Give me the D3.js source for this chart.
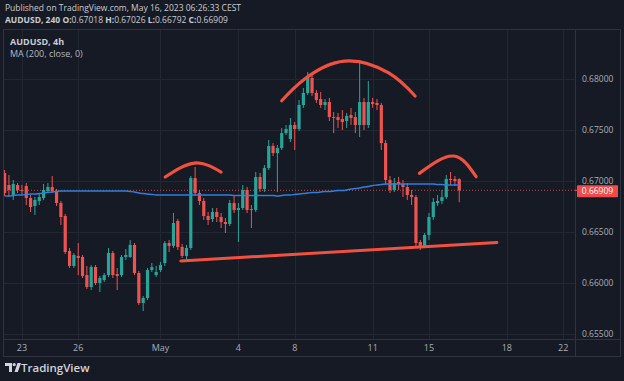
<!DOCTYPE html>
<html><head><meta charset="utf-8">
<script src="https://cdn.jsdelivr.net/npm/d3@7"></script>
<style>
html,body{margin:0;padding:0;background:#161a25;}
svg{display:block;}
</style></head>
<body>
<script>
// ---- Data (AUDUSD, 4h) ----
const opens  = [.67078,.66961,.66863,.66961,.66912,.66951,.66833,.66755,.66804,.66833,.66902,.66941,.66902,.66784,.66657,.66314,.66167,.66265,.66255,.66078,.65961,.66157,.66000,.66029,.66078,.66294,.66088,.66078,.66255,.66255,.66373,.66098,.65804,.65853,.66127,.66078,.66127,.66196,.66392,.66363,.66608,.66353,.66265,.66343,.67029,.66882,.66804,.66657,.66627,.66696,.66647,.66598,.66578,.66784,.66716,.66735,.66912,.66725,.66716,.67039,.66922,.67127,.67343,.67274,.67323,.67470,.67412,.67549,.67510,.67745,.67863,.68010,.67863,.67804,.67745,.67774,.67627,.67627,.67608,.67588,.67647,.67627,.67549,.67774,.67549,.67774,.67765,.67745,.67372,.67010,.66912,.66990,.66971,.66941,.66863,.66843,.66402,.66363,.66471,.66647,.66784,.66804,.66843,.67020,.67020,.67018];
const highs  = [.67108,.67059,.67010,.66980,.66961,.66980,.66863,.66843,.66882,.66971,.66980,.67049,.66922,.66804,.66676,.66343,.66294,.66392,.66275,.66167,.66176,.66176,.66069,.66098,.66343,.66314,.66147,.66275,.66333,.66422,.66392,.66118,.65873,.66147,.66196,.66167,.66206,.66412,.66422,.66686,.66627,.66382,.66373,.67049,.67137,.66912,.66833,.66696,.66735,.66735,.66686,.66637,.66814,.66863,.66784,.66961,.66941,.66765,.67088,.67078,.67157,.67402,.67372,.67353,.67520,.67549,.67618,.67578,.67794,.67912,.68069,.68039,.67892,.67873,.67804,.67814,.67676,.67667,.67696,.67667,.67716,.67676,.68186,.67814,.67980,.67814,.67804,.67765,.67402,.67049,.67029,.67039,.67010,.66980,.66912,.66863,.66422,.66490,.66686,.66833,.66863,.66912,.67059,.67088,.67049,.67026];
const lows   = [.66853,.66843,.66814,.66882,.66863,.66765,.66696,.66667,.66765,.66814,.66882,.66882,.66755,.66569,.66284,.66147,.66147,.66078,.66049,.65941,.65931,.65980,.65912,.66010,.66059,.66049,.65931,.66059,.66225,.66245,.66078,.65784,.65725,.65833,.66108,.66059,.66108,.66167,.66304,.66343,.66324,.66245,.66206,.66324,.66853,.66765,.66618,.66569,.66598,.66598,.66539,.66490,.66559,.66686,.66402,.66716,.66686,.66539,.66696,.66892,.66892,.67108,.67245,.66892,.67304,.67451,.67382,.67304,.67490,.67716,.67843,.67833,.67765,.67716,.67696,.67588,.67470,.67520,.67500,.67520,.67549,.67470,.67431,.67500,.67520,.67716,.67696,.67304,.66961,.66882,.66892,.66912,.66843,.66814,.66765,.66363,.66324,.66343,.66422,.66618,.66755,.66775,.66823,.66961,.66951,.66792];
const closes = [.66882,.66912,.66971,.66912,.66902,.66833,.66745,.66814,.66843,.66912,.66941,.66902,.66784,.66647,.66304,.66167,.66275,.66245,.66069,.65961,.66157,.66000,.66049,.66078,.66294,.66078,.66069,.66255,.66275,.66373,.66098,.65804,.65853,.66127,.66157,.66108,.66176,.66392,.66363,.66588,.66353,.66265,.66343,.67029,.66882,.66804,.66657,.66618,.66696,.66647,.66598,.66578,.66784,.66716,.66735,.66912,.66716,.66716,.67039,.66922,.67127,.67343,.67274,.67323,.67470,.67510,.67549,.67510,.67745,.67863,.68010,.67863,.67794,.67745,.67774,.67627,.67618,.67598,.67578,.67637,.67618,.67549,.67774,.67549,.67774,.67755,.67745,.67372,.67010,.66912,.66980,.66971,.66941,.66863,.66843,.66392,.66363,.66471,.66647,.66794,.66804,.66843,.67020,.67010,.67000,.66909];
const ma200  = [.66853,.66853,.66858,.66863,.66863,.66868,.66873,.66873,.66877,.66882,.66887,.66892,.66897,.66902,
  .66902,.66902,.66902,.66902,.66902,.66902,.66902,.66902,.66902,.66902,.66902,.66902,.66902,.66902,.66902,
  .66897,.66892,.66882,.66877,.66873,.66868,
  .66863,.66863,.66863,.66863,.66863,.66863,.66863,.66863,.66863,
  .66863,.66863,.66863,.66863,.66863,.66863,.66863,.66863,.66863,
  .66858,.66858,.66858,.66858,.66858,.66858,.66858,.66858,.66858,.66858,
  .66853,.66858,.66863,.66863,.66868,.66873,.66877,.66882,.66887,.66887,.66892,.66897,.66897,.66902,.66907,.66907,.66912,.66922,.66926,.66931,.66941,.66946,.66956,.66961,.66966,.66971,.66971,
  .66971,.66971,.66971,.66971,.66971,.66971,.66971,.66971,.66971,.66971,
  .66966,.66966,.66961,.66961,.66961,.66961];

// x-axis ticks: bar index where each label sits
const timeTickBars   = [4, 17, 36, 54, 67, 85, 98, 116, 129];
const timeTickLabels = ["23","26","May","4","8","11","15","18","22"];
const priceTicks = [0.655, 0.66, 0.665, 0.67, 0.675, 0.68];
const lastPrice = 0.66909;

// drawings (bar index, price)
const leftShoulder  = [[37.1,0.67039],[43.9,0.67176],[50.0,0.67088]];
const headArc       = [[64.0,0.67787],[69.3,0.68000],[78.5,0.68176],[88.7,0.68059],[94.8,0.67833]];
const rightShoulder = [[95.8,0.67075],[103.6,0.67245],[108.9,0.67042]];
const neckline      = [[40.7,0.66216],[113.7,0.66397]];

// ---- Layout ----
const W = 624, H = 381;
const plotL = 4, plotR = 575, plotT = 30, plotB = 339;
const UP = "#26a69a", DOWN = "#ef5350";

const svg = d3.select("body").append("svg").attr("width", W).attr("height", H);
svg.append("rect").attr("width", W).attr("height", H).attr("fill", "#161a25");

const x = d3.scaleLinear().domain([0, 105]).range([4.6, 459.25]);
const y = d3.scaleLinear().domain([0.655, 0.68]).range([334, 79]);

// frame
svg.append("rect").attr("x", 3.5).attr("y", 29.5).attr("width", 617).attr("height", 327)
  .attr("fill", "none").attr("stroke", "#2f3340");

svg.append("clipPath").attr("id", "plot").append("rect")
  .attr("x", plotL).attr("y", plotT).attr("width", plotR - plotL).attr("height", plotB - plotT);

const g = svg.append("g").attr("clip-path", "url(#plot)");

// grid
const gridColor = "#232733";
g.selectAll(".hg").data(d3.range(0.655, 0.6901, 0.005)).join("line")
  .attr("x1", plotL).attr("x2", plotR)
  .attr("y1", d => Math.round(y(d)) + 0.5).attr("y2", d => Math.round(y(d)) + 0.5)
  .attr("stroke", gridColor);
g.selectAll(".vg").data(timeTickBars).join("line")
  .attr("x1", d => Math.round(x(d)) + 0.5).attr("x2", d => Math.round(x(d)) + 0.5)
  .attr("y1", plotT).attr("y2", plotB).attr("stroke", gridColor);

// last price dotted line
g.append("line").attr("x1", plotL).attr("x2", plotR)
  .attr("y1", y(lastPrice)).attr("y2", y(lastPrice))
  .attr("stroke", DOWN).attr("stroke-width", 1).attr("stroke-dasharray", "1,2").attr("opacity", 0.8);

// candles
const bars = opens.map((o, i) => ({i, o, h: highs[i], l: lows[i], c: closes[i]}));
const cg = g.append("g");
cg.selectAll(".wick").data(bars).join("line")
  .attr("x1", d => x(d.i)).attr("x2", d => x(d.i))
  .attr("y1", d => y(d.h)).attr("y2", d => y(d.l))
  .attr("stroke", d => d.c >= d.o ? UP : DOWN).attr("stroke-width", 1);
cg.selectAll(".body").data(bars).join("rect")
  .attr("x", d => x(d.i) - 1.6).attr("width", 3.2)
  .attr("y", d => y(Math.max(d.o, d.c)))
  .attr("height", d => Math.max(1, Math.abs(y(d.o) - y(d.c))))
  .attr("fill", d => d.c >= d.o ? UP : DOWN);

// MA line
g.append("path").datum(ma200)
  .attr("d", d3.line().x((d, i) => x(i)).y(d => y(d)).curve(d3.curveMonotoneX))
  .attr("fill", "none").attr("stroke", "#2f7fe0").attr("stroke-width", 1.4);

// drawings
const ann = d3.line().x(d => x(d[0])).y(d => y(d[1])).curve(d3.curveNatural);
const annColor = "#f3513f";
[leftShoulder, headArc, rightShoulder].forEach(a => {
  g.append("path").attr("d", ann(a)).attr("fill", "none")
    .attr("stroke", annColor).attr("stroke-width", 3.2).attr("stroke-linecap", "round");
});
g.append("path").attr("d", d3.line().x(d => x(d[0])).y(d => y(d[1]))(neckline))
  .attr("fill", "none").attr("stroke", annColor).attr("stroke-width", 3).attr("stroke-linecap", "round");

// axes separators
svg.append("line").attr("x1", plotR + 0.5).attr("x2", plotR + 0.5).attr("y1", 30).attr("y2", 356).attr("stroke", "#2f3340");
svg.append("line").attr("x1", 4).attr("x2", 620).attr("y1", plotB + 0.5).attr("y2", plotB + 0.5).attr("stroke", "#2f3340");

// price axis labels
const axisFont = "'Open Sans', sans-serif";
svg.append("g").selectAll("text").data(priceTicks).join("text")
  .attr("x", 582).attr("y", d => y(d) + 2.5)
  .attr("fill", "#a9adb8").attr("font-family", axisFont).attr("font-size", 8.5)
  .text(d => d3.format(".5f")(d));

// last price tag
svg.append("line").attr("x1", plotR).attr("x2", plotR + 3).attr("y1", y(lastPrice)).attr("y2", y(lastPrice)).attr("stroke", DOWN);
svg.append("rect").attr("x", 577).attr("y", y(lastPrice) - 5).attr("width", 41).attr("height", 12)
  .attr("fill", "#f04b4b").attr("rx", 1);
svg.append("text").attr("x", 597.5).attr("y", y(lastPrice) + 4).attr("text-anchor", "middle")
  .attr("fill", "#ffffff").attr("font-family", axisFont).attr("font-size", 8.5).text(d3.format(".5f")(lastPrice));

// time axis labels
svg.append("g").selectAll("text").data(timeTickBars).join("text")
  .attr("x", d => x(d)).attr("y", 351).attr("text-anchor", "middle")
  .attr("fill", "#a9adb8").attr("font-family", axisFont).attr("font-size", 9)
  .text((d, i) => timeTickLabels[i]);

// header
const hdrFont = "'Open Sans', sans-serif";
svg.append("text").attr("x", 5).attr("y", 11).attr("fill", "#c9ccd3")
  .attr("font-family", hdrFont).attr("font-size", 8.5)
  .text("Published on TradingView.com, May 16, 2023 06:26:33 CEST");
const l2 = svg.append("text").attr("x", 5).attr("y", 23).attr("fill", "#c9ccd3")
  .attr("font-family", hdrFont).attr("font-size", 8.5);
const l2parts = [["AUDUSD, 240 ", true], ["O:", true], ["0.67018 ", false], ["H:", true], ["0.67026 ", false],
  ["L:", true], ["0.66792 ", false], ["C:", true], ["0.66909", false]];
l2parts.forEach(p => l2.append("tspan").attr("font-weight", p[1] ? "bold" : "normal").text(p[0]));

// legend
svg.append("text").attr("x", 10).attr("y", 45).attr("fill", "#c9ccd3").attr("font-family", hdrFont)
  .attr("font-size", 9).attr("font-weight", "bold").text("AUDUSD, 4h");
svg.append("text").attr("x", 10).attr("y", 57).attr("fill", "#b5b8c0").attr("font-family", hdrFont)
  .attr("font-size", 9).text("MA (200, close, 0)");

// TradingView logo
const logo = svg.append("g").attr("transform", "translate(5,363)").attr("fill", "#d1d4dc");
logo.append("path").attr("d", "M0,0 H7 V9 H4 V3 H0 Z");
logo.append("circle").attr("cx", 9.2).attr("cy", 1.6).attr("r", 1.6);
logo.append("path").attr("d", "M9.5,9 L12.5,0 H16 L12.8,9 Z");
svg.append("text").attr("x", 21).attr("y", 372).attr("fill", "#d1d4dc").attr("font-family", "'Open Sans', sans-serif")
  .attr("font-size", 11.5).attr("font-weight", "600").text("TradingView");
</script>
</body></html>
